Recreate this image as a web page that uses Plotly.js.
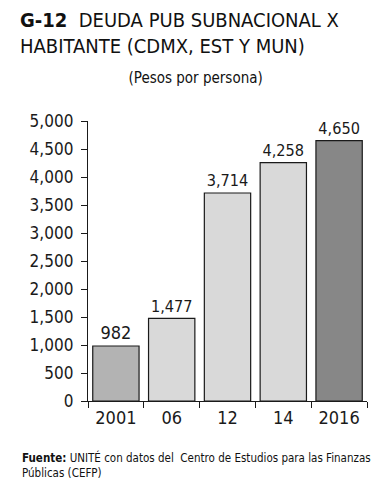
<!DOCTYPE html>
<html><head><meta charset="utf-8">
<script src="https://cdn.plot.ly/plotly-3.0.1.min.js"></script>
<style>body{margin:0;background:#fff}#c{width:387px;height:500px}#c text{font-stretch:condensed !important}</style>
</head><body><div id="c"></div>
<script>
const categories = ["2001", "06", "12", "14", "2016"];
const values = [982, 1477, 3714, 4258, 4650];
const valueLabels = ["982", "1,477", "3,714", "4,258", "4,650"];
const barColors = ["#b3b3b3", "#d9d9d9", "#d9d9d9", "#d9d9d9", "#878787"];
const yTicks = [0, 500, 1000, 1500, 2000, 2500, 3000, 3500, 4000, 4500, 5000];
const yTickLabels = ["0", "500", "1,000", "1,500", "2,000", "2,500", "3,000", "3,500", "4,000", "4,500", "5,000"];

const F = '"DejaVu Sans", sans-serif';

Plotly.newPlot('c', [{
  type: 'bar', x: categories, y: values,
  text: valueLabels, textposition: 'outside', cliponaxis: false,
  textfont: {family: F, size: 18, color: '#1a1a1a'},
  marker: {color: barColors, line: {color: '#1a1a1a', width: 1.2}},
  width: 0.83, hoverinfo: 'none'
}], {
  width: 387, height: 500,
  margin: {l: 88, r: 20, t: 121, b: 99},
  paper_bgcolor: '#fff', plot_bgcolor: '#fff',
  showlegend: false,
  xaxis: {
    type: 'category', tickson: 'boundaries', ticks: 'outside', ticklen: 6, tickcolor: '#1a1a1a',
    showline: true, linecolor: '#1a1a1a', linewidth: 1.2, showgrid: false,
    tickfont: {family: F, size: 18, color: '#1a1a1a'}, fixedrange: true
  },
  yaxis: {
    range: [0, 5000], tickvals: yTicks, ticktext: yTickLabels, ticks: 'outside', ticklen: 6,
    tickcolor: '#1a1a1a', showline: true, linecolor: '#1a1a1a', linewidth: 1.2,
    showgrid: false, zeroline: false, ticklabelstandoff: 4,
    tickfont: {family: F, size: 17, color: '#1a1a1a'}, fixedrange: true
  },
  annotations: [
    {xref: 'paper', yref: 'paper', x: -0.25, y: 1.41, xanchor: 'left', yanchor: 'top', align: 'left',
     showarrow: false, text: '<b>G-12</b>  DEUDA PUB SUBNACIONAL X<br>HABITANTE (CDMX, EST Y MUN)',
     font: {family: F, size: 20, color: '#111'}},
    {xref: 'paper', yref: 'paper', x: 0.384, y: 1.154, xanchor: 'center', yanchor: 'middle',
     showarrow: false, text: '(Pesos por persona)', font: {family: F, size: 15, color: '#111'}},
    {xref: 'paper', yref: 'paper', x: -0.245, y: -0.168, xanchor: 'left', yanchor: 'top', align: 'left',
     showarrow: false, text: '<b>Fuente:</b> UNITÉ con datos del  Centro de Estudios para las Finanzas<br>Públicas (CEFP)',
     font: {family: F, size: 11.5, color: '#111'}}
  ]
}, {staticPlot: true});
</script></body></html>
